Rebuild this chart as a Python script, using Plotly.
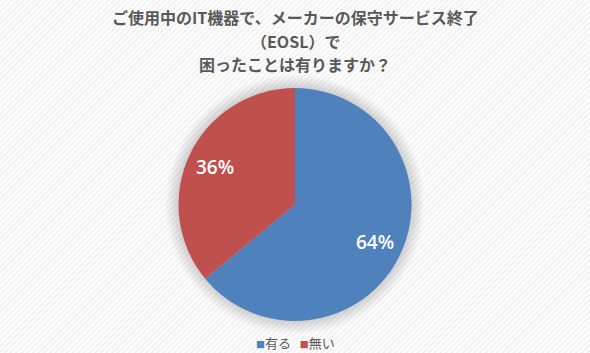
import math
import base64
import plotly.graph_objects as go

labels = ["有る", "無い"]
values = [64, 36]
colors = ["#4F81BD", "#C0504D"]
title_lines = ["ご使用中のIT機器で、メーカーの保守サービス終了", "（EOSL）で", "困ったことは有りますか？"]

W, H = 590, 353
dom_y = [0.0907, 0.7507]
cy_paper = (dom_y[0] + dom_y[1]) / 2
R = (dom_y[1] - dom_y[0]) * H / 2

svg = ('<svg xmlns="http://www.w3.org/2000/svg" width="590" height="353">'
       '<defs><pattern id="p" width="4" height="4" patternUnits="userSpaceOnUse" patternTransform="rotate(45)">'
       '<rect width="4" height="4" fill="#fdfdfd"/><rect width="1.5" height="4" fill="#efefef"/></pattern>'
       '<radialGradient id="g" cx="295" cy="204.5" r="130" gradientUnits="userSpaceOnUse">'
       '<stop offset="0.86" stop-color="#000" stop-opacity="0.22"/><stop offset="1" stop-color="#000" stop-opacity="0"/></radialGradient></defs>'
       '<rect width="590" height="353" fill="url(#p)"/>'
       '<circle cx="295" cy="204.5" r="130" fill="url(#g)"/></svg>')
uri = "data:image/svg+xml;base64," + base64.b64encode(svg.encode()).decode()

fig = go.Figure(go.Pie(
    labels=labels, values=values, sort=False, direction="clockwise", rotation=0,
    marker=dict(colors=colors),
    textinfo="none",
    domain=dict(x=[0, 1], y=dom_y),
    showlegend=False, hoverinfo="label+percent",
))

annotations = []
# percentage labels placed along each slice's mid-angle, derived from the values
total = sum(values)
start = 0.0
for v in values:
    frac = v / total
    mid = (start + frac / 2) * 2 * math.pi
    start += frac
    r = 0.755 * R
    annotations.append(dict(
        text=f"{round(frac * 100)}%", showarrow=False, xref="paper", yref="paper",
        x=0.5 + r * math.sin(mid) / W, y=cy_paper + r * math.cos(mid) / H,
        xanchor="center", yanchor="middle",
        font=dict(family="Open Sans", size=19, color="white", weight=600)))

# title lines
for line, ypx in zip(title_lines, [17, 41, 64]):
    annotations.append(dict(
        text=line, showarrow=False, xref="paper", yref="paper", x=0.5, y=1 - ypx / H,
        xanchor="center", yanchor="middle",
        font=dict(family="Noto Sans CJK JP", size=16, color="#595959", weight="bold")))

# legend
legend_text = "\u00a0\u00a0\u00a0".join(
    f'<span style="font-size:9px;color:{c}">■</span>{l}' for l, c in zip(labels, colors))
annotations.append(dict(
    text=legend_text, showarrow=False, xref="paper", yref="paper", x=0.5, y=1 - 342 / H,
    xanchor="center", yanchor="middle",
    font=dict(family="Noto Sans CJK JP", size=13, color="#595959")))

fig.update_layout(
    width=W, height=H, margin=dict(l=0, r=0, t=0, b=0),
    paper_bgcolor="#f8f8f8",
    images=[dict(source=uri, xref="paper", yref="paper", x=0, y=1, sizex=1, sizey=1,
                 sizing="stretch", layer="below", xanchor="left", yanchor="top")],
    annotations=annotations,
    font=dict(family="Noto Sans CJK JP"),
)

fig.write_html("out.html")
